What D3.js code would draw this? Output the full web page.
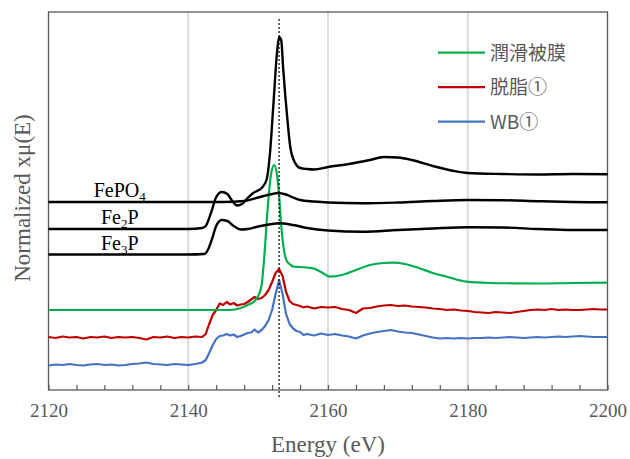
<!DOCTYPE html>
<html>
<head>
<meta charset="utf-8">
<script src="https://cdn.jsdelivr.net/npm/d3@7"></script>
<style>
body { margin: 0; background: #fff; }
</style>
</head>
<body>
<svg class="chart"></svg>
<script>
var svgWidth = 630,
    svgHeight = 459,
    margin = {top: 12, right: 22.5, bottom: 69, left: 48.5},
    width = svgWidth - margin.left - margin.right,
    height = svgHeight - margin.top - margin.bottom,
    serif = '"Liberation Serif", "Times New Roman", serif';

// reference spectra (black), [energy eV, offset normalized xmu]
var refTop = [[2120,1.61],[2130,1.61],[2140,1.61],[2142,1.62],[2142.5,1.64],[2143.3,1.78],[2144,1.93],[2144.8,1.98],[2145.6,1.96],[2146.3,1.89],[2147,1.845],[2147.7,1.86],[2148.5,1.92],[2149.3,1.97],[2150.5,2.02],[2151.2,2.10],[2151.7,2.37],[2152.2,2.87],[2152.7,3.37],[2153,3.53],[2153.3,3.50],[2153.6,3.20],[2154.2,2.70],[2154.6,2.43],[2155.3,2.27],[2156,2.22],[2157,2.21],[2158,2.205],[2160,2.23],[2163,2.26],[2166,2.30],[2168,2.33],[2170,2.325],[2172,2.30],[2175,2.24],[2178,2.19],[2180,2.17],[2185,2.16],[2190,2.155],[2195,2.16],[2200,2.157]];
var refMid = [[2120,1.88],[2140,1.88],[2145,1.88],[2148,1.89],[2150,1.925],[2152,1.96],[2152.8,1.97],[2154,1.955],[2155,1.925],[2156,1.90],[2158,1.885],[2160,1.875],[2165,1.867],[2170,1.875],[2175,1.89],[2180,1.90],[2185,1.898],[2190,1.888],[2195,1.88],[2200,1.877]];
var refLow = [[2120,1.355],[2140,1.355],[2142.3,1.36],[2142.8,1.40],[2143.4,1.51],[2144,1.64],[2144.8,1.70],[2145.6,1.69],[2146.5,1.64],[2147.5,1.605],[2148.5,1.61],[2150,1.635],[2152,1.66],[2153,1.667],[2155,1.65],[2157,1.62],[2160,1.595],[2165,1.583],[2170,1.60],[2175,1.615],[2180,1.627],[2185,1.625],[2190,1.61],[2195,1.60],[2200,1.60]];
var refLabels = [
    {base: 'FePO', sub: '4', curve: refMid},
    {base: 'Fe', sub: '2', tail: 'P', curve: refTop},
    {base: 'Fe', sub: '3', tail: 'P', curve: refLow}
];

// samples
var film = [[2120,0.80],[2146,0.80],[2147.4,0.817],[2148.5,0.85],[2149.5,0.89],[2150,0.94],[2150.5,1.05],[2150.9,1.35],[2151.4,1.85],[2151.9,2.18],[2152.3,2.25],[2152.7,2.15],[2153,1.95],[2153.3,1.65],[2153.7,1.40],[2154.1,1.29],[2154.6,1.255],[2155,1.235],[2156,1.23],[2157.9,1.217],[2159,1.18],[2160.3,1.133],[2162,1.15],[2164,1.20],[2166,1.25],[2168,1.27],[2169.3,1.273],[2171,1.26],[2173,1.22],[2175,1.17],[2177,1.133],[2179.8,1.083],[2183,1.07],[2186.5,1.067],[2190,1.065],[2195,1.07],[2200,1.073]];
var degreased = [[2120,0.53],[2121,0.52],[2122,0.535],[2123,0.525],[2124,0.53],[2125,0.515],[2126,0.53],[2127,0.525],[2128,0.535],[2129,0.52],[2130,0.53],[2131,0.525],[2132,0.53],[2133,0.52],[2134,0.505],[2135,0.53],[2136,0.525],[2137,0.535],[2138,0.52],[2139,0.53],[2140,0.525],[2141,0.535],[2142,0.53],[2142.5,0.56],[2143,0.66],[2143.5,0.75],[2144,0.80],[2144.5,0.865],[2145,0.85],[2145.5,0.88],[2146,0.855],[2146.5,0.87],[2147,0.845],[2147.5,0.855],[2148,0.86],[2148.5,0.88],[2149,0.905],[2149.5,0.93],[2150,0.91],[2150.5,0.92],[2151,0.95],[2151.5,1.00],[2152,1.08],[2152.5,1.17],[2153,1.21],[2153.5,1.14],[2154,0.98],[2154.5,0.89],[2155,0.86],[2155.5,0.85],[2156,0.84],[2156.5,0.825],[2157,0.835],[2158,0.815],[2159,0.83],[2160,0.825],[2161,0.83],[2162,0.81],[2163,0.80],[2164,0.77],[2165,0.815],[2166,0.82],[2167,0.835],[2168,0.845],[2169,0.85],[2170,0.84],[2171,0.845],[2172,0.835],[2173,0.83],[2174,0.825],[2175,0.815],[2176,0.81],[2177,0.80],[2178,0.805],[2179,0.795],[2180,0.79],[2181,0.78],[2182,0.775],[2183,0.77],[2184,0.78],[2185,0.775],[2186,0.77],[2187,0.78],[2188,0.79],[2189,0.80],[2190,0.805],[2191,0.80],[2192,0.81],[2193,0.80],[2194,0.805],[2195,0.80],[2196,0.80],[2197,0.805],[2198,0.81],[2199,0.805],[2200,0.805]];
var wb = [[2120,0.245],[2121,0.255],[2122,0.25],[2123,0.26],[2124,0.25],[2125,0.245],[2126,0.255],[2127,0.26],[2128,0.25],[2129,0.255],[2130,0.245],[2131,0.25],[2132,0.26],[2133,0.265],[2134,0.275],[2135,0.26],[2136,0.255],[2137,0.25],[2138,0.26],[2139,0.255],[2140,0.25],[2141,0.26],[2142,0.275],[2142.5,0.30],[2143,0.37],[2143.5,0.45],[2144,0.51],[2144.5,0.54],[2145,0.545],[2145.5,0.56],[2146,0.545],[2146.5,0.555],[2147,0.53],[2147.5,0.54],[2148,0.555],[2148.5,0.57],[2149,0.575],[2149.5,0.605],[2150,0.575],[2150.5,0.60],[2151,0.64],[2151.5,0.70],[2152,0.80],[2152.5,0.96],[2153,1.10],[2153.5,0.96],[2154,0.76],[2154.5,0.66],[2155,0.615],[2155.5,0.59],[2156,0.58],[2156.5,0.55],[2157,0.56],[2158,0.545],[2159,0.565],[2160,0.55],[2161,0.56],[2162,0.545],[2163,0.535],[2164,0.515],[2165,0.545],[2166,0.565],[2167,0.58],[2168,0.59],[2169,0.60],[2170,0.585],[2171,0.575],[2172,0.57],[2173,0.555],[2174,0.54],[2175,0.525],[2176,0.515],[2177,0.52],[2178,0.515],[2179,0.52],[2180,0.515],[2181,0.52],[2182,0.52],[2183,0.525],[2184,0.52],[2185,0.525],[2186,0.53],[2187,0.525],[2188,0.52],[2189,0.525],[2190,0.53],[2191,0.525],[2192,0.53],[2193,0.535],[2194,0.53],[2195,0.535],[2196,0.54],[2197,0.535],[2198,0.53],[2199,0.53],[2200,0.53]];

var legendNames = ['潤滑被膜', '脱脂①', 'WB①'];
var legendColors = ['#00b050', '#c00000', '#4472c4'];
var gridEnergies = [2140, 2160, 2180];
var edgeEnergy = 2153;
var xTicks = d3.range(2120, 2201, 4);

var xScale = d3.scaleLinear().domain([2120, 2200]).range([0, width]),
    yScale = d3.scaleLinear().domain([0, 3.78]).range([height, 0]);

var svg = d3.select('.chart')
    .attr('width', svgWidth)
    .attr('height', svgHeight)
    .append('g')
        .attr('transform', 'translate(' + margin.left + ',' + margin.top + ')');

// gridlines
svg.selectAll('.grid')
    .data(gridEnergies)
    .enter().append('line')
        .attr('class', 'grid')
        .attr('x1', xScale).attr('x2', xScale)
        .attr('y1', 0).attr('y2', height)
        .attr('stroke', '#d9d9d9')
        .attr('stroke-width', 1.8);

var xAxis = d3.axisBottom(xScale)
    .tickValues(xTicks)
    .tickSize(-5)
    .tickSizeOuter(0)
    .tickPadding(14)
    .tickFormat(function(d) { return d % 20 === 0 ? d : ''; });

var gx = svg.append('g')
    .attr('transform', 'translate(0,' + height + ')')
    .call(xAxis);
gx.select('.domain').remove();
gx.selectAll('line').attr('stroke', '#595959').attr('stroke-width', 1.2);
gx.selectAll('text')
    .attr('fill', '#595959')
    .style('font-family', serif)
    .style('font-size', '19px');

// frame
svg.append('rect')
    .attr('width', width)
    .attr('height', height)
    .attr('fill', 'none')
    .attr('stroke', '#595959')
    .attr('stroke-width', 1.3);

var line = d3.line()
    .x(function(d) { return xScale(d[0]); })
    .y(function(d) { return yScale(d[1]); });
var smooth = d3.line()
    .curve(d3.curveMonotoneX)
    .x(function(d) { return xScale(d[0]); })
    .y(function(d) { return yScale(d[1]); });

var series = [
    {data: wb, color: legendColors[2], gen: line, w: 2.2},
    {data: degreased, color: legendColors[1], gen: line, w: 2.2},
    {data: film, color: legendColors[0], gen: smooth, w: 2.2},
    {data: refLow, color: '#000', gen: smooth, w: 2.4},
    {data: refMid, color: '#000', gen: smooth, w: 2.4},
    {data: refTop, color: '#000', gen: smooth, w: 2.4}
];

svg.selectAll('.spec')
    .data(series)
    .enter().append('path')
        .attr('class', 'spec')
        .attr('d', function(s) { return s.gen(s.data); })
        .attr('fill', 'none')
        .attr('stroke', function(s) { return s.color; })
        .attr('stroke-width', function(s) { return s.w; })
        .attr('stroke-linejoin', 'round');

// edge position
svg.append('line')
    .attr('x1', xScale(edgeEnergy)).attr('x2', xScale(edgeEnergy))
    .attr('y1', 7).attr('y2', height + 8)
    .attr('stroke', '#000')
    .attr('stroke-width', 1.2)
    .attr('stroke-dasharray', '2,2');

// labels of the reference curves
var lab = svg.selectAll('.reflab')
    .data(refLabels)
    .enter().append('text')
        .attr('class', 'reflab')
        .attr('x', xScale(2130.2))
        .attr('y', function(d) { return yScale(d.curve[0][1]) - 5; })
        .attr('text-anchor', 'middle')
        .style('font-family', serif)
        .style('font-size', '20px')
        .attr('fill', '#000');
lab.append('tspan').text(function(d) { return d.base; });
lab.append('tspan').attr('dy', 4).style('font-size', '13px').text(function(d) { return d.sub; });
lab.append('tspan').attr('dy', -4).text(function(d) { return d.tail || ''; });

// legend
var legend = svg.selectAll('.legend')
    .data(legendNames)
    .enter().append('g')
        .attr('class', 'legend')
        .attr('transform', function(d, i) { return 'translate(' + (438 - margin.left) + ',' + (52.7 - margin.top + i * 34.5) + ')'; });
legend.append('line')
    .attr('x1', 0).attr('x2', 47)
    .attr('stroke', function(d, i) { return legendColors[i]; })
    .attr('stroke-width', 2.2);
legend.append('text')
    .attr('x', 52)
    .attr('dy', '0.36em')
    .attr('fill', '#595959')
    .style('font-family', '"Noto Sans CJK JP", sans-serif')
    .style('font-size', '19px')
    .text(function(d) { return d; });

// axis titles
svg.append('text')
    .attr('x', xScale(2160))
    .attr('y', height + 62)
    .attr('text-anchor', 'middle')
    .attr('fill', '#595959')
    .style('font-family', serif)
    .style('font-size', '23px')
    .text('Energy (eV)');

svg.append('text')
    .attr('transform', 'translate(' + (30 - margin.left) + ',' + (198 - margin.top) + ') rotate(-90)')
    .attr('text-anchor', 'middle')
    .attr('fill', '#595959')
    .style('font-family', serif)
    .style('font-size', '23px')
    .text('Normalized xμ(E)');
</script>
</body>
</html>
